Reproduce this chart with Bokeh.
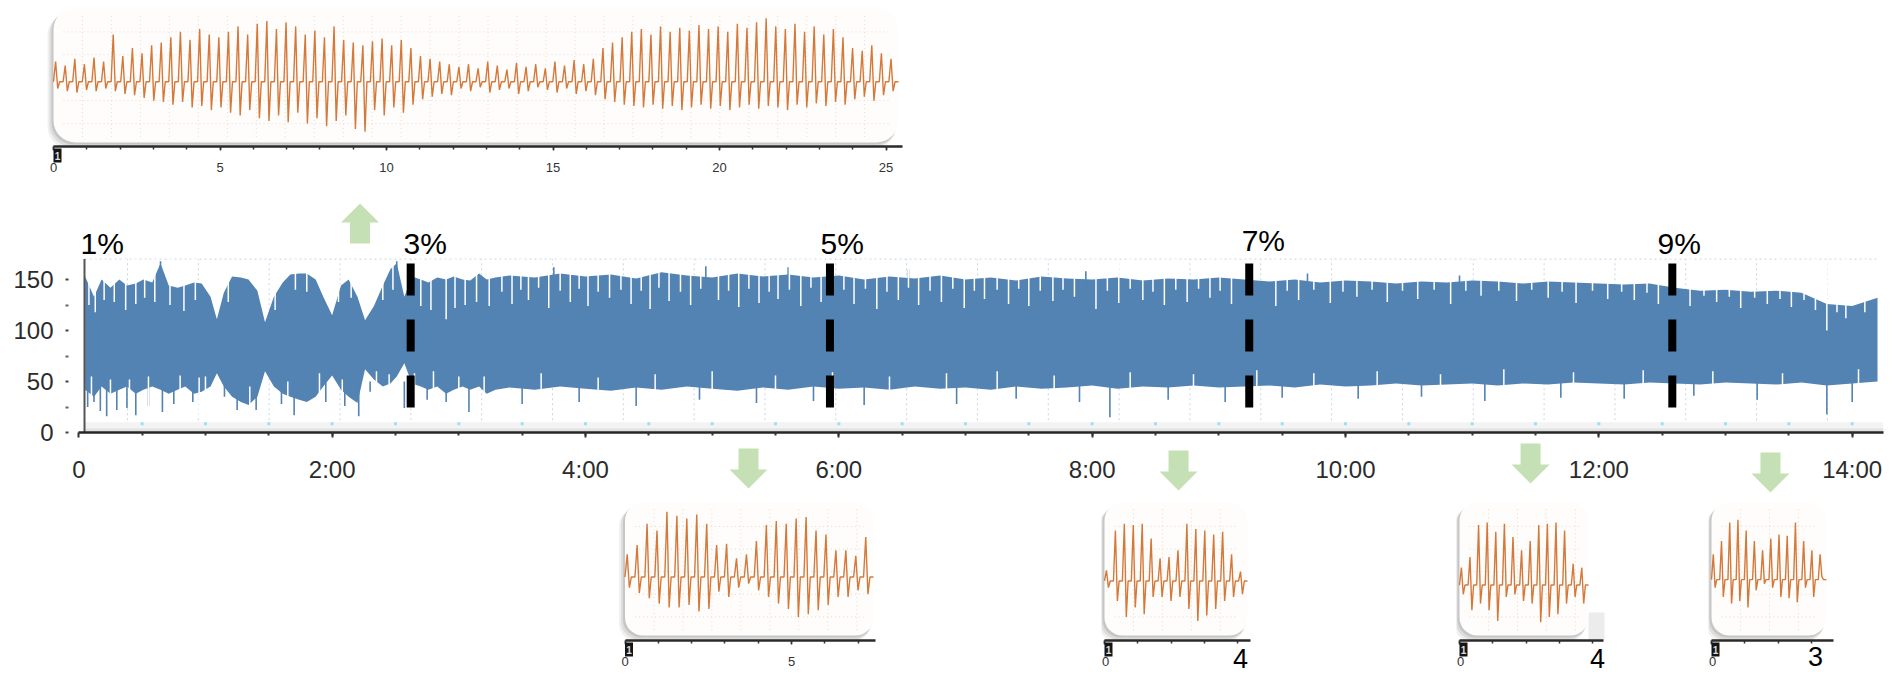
import numpy as np
from bokeh.plotting import figure
from bokeh.layouts import column, row
from bokeh.models import Range1d, FixedTicker, Spacer
from bokeh.embed import file_html
from bokeh.resources import INLINE
from bokeh.core.properties import value

# ------------------------------------------------------------------ data
time_ticks = [0, 2, 4, 6, 8, 10, 12, 14]
time_tick_labels = ["0", "2:00", "4:00", "6:00", "8:00", "10:00", "12:00", "14:00"]
value_ticks = [0, 50, 100, 150]
value_minor_ticks = [25, 75, 125]

# main recording: upper / lower envelope of the dense signal (hours, value)
env_t = [0.05, 0.12, 0.18, 0.25, 0.32, 0.38, 0.45, 0.51, 0.58, 0.645,
         0.71, 0.78, 0.84, 0.91, 0.97, 1.04, 1.09, 1.145, 1.21, 1.28,
         1.34, 1.41, 1.47, 1.54, 1.61, 1.67, 1.74, 1.80, 1.87, 1.93,
         2.0, 2.07, 2.13, 2.20, 2.26, 2.33, 2.40, 2.46, 2.51, 2.57,
         2.63, 2.70, 2.76, 2.83, 2.90, 2.96, 3.03, 3.09, 3.16, 3.22, 3.29,
         3.4, 3.6, 3.8, 4.0, 4.2, 4.4, 4.6, 4.8, 5.0, 5.2, 5.4, 5.6, 5.8, 6.0,
         6.2, 6.4, 6.6, 6.8, 7.0, 7.2, 7.4, 7.6, 7.8, 8.0, 8.2, 8.4, 8.6, 8.8,
         9.0, 9.2, 9.4, 9.6, 9.8, 10.0, 10.2, 10.4, 10.6, 10.8, 11.0, 11.2,
         11.4, 11.6, 11.8, 12.0, 12.2, 12.4, 12.6, 12.8, 13.0, 13.2, 13.4,
         13.6, 13.8, 14.0, 14.2]
env_hi = [153, 133, 150, 142, 150, 144, 146, 150, 147, 166,
          144, 142, 144, 147, 146, 133, 111, 137, 153, 152,
          150, 139, 108, 133, 147, 155, 156, 156, 150, 133,
          115, 144, 150, 133, 110, 124, 144, 160, 166, 133,
          153, 150, 147, 152, 150, 153, 150, 149, 156, 150, 152,
          154, 152, 156, 153, 155, 151, 157, 154, 152, 156, 153, 155, 152, 154,
          150, 153, 151, 154, 150, 152, 149, 153, 151, 150, 152, 149, 151, 150,
          152, 150, 148, 150, 147, 149, 148, 146, 148, 147, 149, 148,
          146, 148, 147, 146, 145, 146, 142, 139, 140, 138, 139,
          137, 126, 124, 132]
env_lo = [42, 35, 45, 38, 42, 45, 38, 42, 45, 42,
          38, 42, 45, 38, 40, 45, 58, 45, 35, 30,
          27, 35, 60, 45, 38, 35, 32, 30, 35, 45,
          56, 42, 35, 29, 62, 52, 45, 48, 55, 68,
          48, 45, 42, 45, 38, 42, 45, 42, 45, 38, 42,
          44, 42, 45, 43, 41, 44, 42, 45, 43, 41, 44, 42, 45, 43,
          44, 42, 45, 43, 44, 42, 45, 43, 44, 46, 43, 45, 44, 46,
          44, 45, 46, 44, 47, 45, 46, 48, 46, 47, 48, 46,
          48, 47, 49, 48, 47, 49, 48, 47, 49, 48, 47,
          49, 46, 48, 50]

# narrow dips from the top of the band (white notches)
top_notch_t = [0.08, 0.13, 0.20, 0.28, 0.37, 0.45, 0.52, 0.60, 0.72, 0.83,
               0.92, 1.18, 1.55, 1.71, 1.80, 2.05, 2.15, 2.40, 2.48, 2.70,
               2.78, 2.90, 2.97, 3.05, 3.14, 3.24, 3.34,
               3.42, 3.49, 3.55, 3.63, 3.71, 3.80, 3.88, 3.95, 4.02, 4.10,
               4.19, 4.28, 4.36, 4.44, 4.51, 4.58, 4.66, 4.75, 4.83, 4.91,
               5.05, 5.13, 5.21, 5.29, 5.37, 5.45, 5.52, 5.61, 5.70, 5.78,
               5.86, 6.04, 6.12, 6.21, 6.30, 6.38, 6.47, 6.55, 6.63, 6.72,
               6.81, 6.90, 6.99, 7.07, 7.15, 7.25, 7.34, 7.42, 7.50, 7.59,
               7.69, 7.77, 7.86, 8.03, 8.12, 8.21, 8.30, 8.40, 8.48, 8.57,
               8.66, 8.75, 8.84, 8.93, 9.01, 9.10, 9.45, 9.54, 9.63, 9.75,
               9.88, 9.98, 10.09, 10.21, 10.33, 10.45, 10.57, 10.70, 10.83, 10.95,
               11.07, 11.21, 11.35, 11.47, 11.60, 11.71, 11.82, 11.95, 12.07, 12.18,
               12.28, 12.38, 12.47, 12.72, 12.83, 12.93, 13.03, 13.12, 13.23, 13.33,
               13.43, 13.52, 13.62, 13.71, 13.80, 13.88, 13.95, 14.10]
top_notch_v = [125, 118, 130, 128, 120, 126, 132, 128, 125, 119,
               130, 128, 120, 140, 138, 128, 132, 130, 140, 124,
               120, 111, 122, 125, 128, 124, 138,
               126, 140, 130, 142, 122, 139, 128, 141, 124, 138,
               132, 140, 126, 139, 121, 142, 129, 138, 125, 141,
               130, 139, 123, 141, 127, 138, 131, 140, 124, 142,
               128, 140, 126, 141, 121, 138, 130, 142, 125, 139,
               128, 141, 122, 139, 131, 140, 126, 141, 124, 139,
               129, 140, 133, 121, 139, 127, 141, 130, 138, 125,
               140, 128, 141, 132, 139, 126, 124, 139, 130, 140,
               127, 138, 133, 140, 128, 139, 131, 140, 126, 139,
               134, 139, 129, 140, 132, 138, 127, 139, 131, 138,
               130, 137, 126, 124, 134, 128, 133, 122, 132, 126,
               131, 123, 130, 120, 100, 118, 112, 118]
# narrow rises from the bottom of the band (white notches)
bot_notch_t = [0.10, 0.25, 0.40, 0.55, 0.80, 0.95, 1.00, 1.35, 1.65, 1.90,
               2.08, 2.35, 2.45, 2.65, 2.80, 3.00, 3.20, 3.65, 4.10, 4.55,
               5.00, 5.50, 5.95, 6.40, 6.85, 7.25, 7.70, 8.30, 8.80, 9.30,
               9.75, 10.25, 10.75, 11.25, 11.80, 12.35, 12.90, 13.45, 14.05]
bot_notch_v = [55, 52, 52, 55, 56, 54, 55, 45, 50, 58,
               52, 60, 57, 58, 60, 55, 55, 58, 54, 57,
               60, 56, 59, 55, 58, 60, 56, 59, 57, 61,
               58, 60, 57, 62, 59, 61, 60, 58, 62]
# single low excursions (blue spikes downward)
bot_spike_t = [0.07, 0.12, 0.17, 0.22, 0.30, 0.38, 0.45, 0.55, 0.66, 0.75,
               0.90, 1.15, 1.25, 1.40, 1.60, 1.70, 1.95, 2.10, 2.21, 2.30,
               2.57, 2.75, 2.90, 3.08, 3.50, 3.95, 4.40, 4.90, 5.35, 5.80,
               6.20, 6.93, 7.40, 7.90, 8.14, 8.60, 9.05, 9.50, 10.10, 10.60,
               11.10, 11.70, 12.20, 12.75, 13.25, 13.80, 14.0]
bot_spike_v = [25, 30, 21, 16, 22, 24, 17, 26, 20, 28,
               30, 35, 22, 22, 28, 17, 30, 26, 16, 40,
               24, 32, 30, 20, 28, 30, 26, 32, 29, 31,
               27, 28, 33, 30, 15, 32, 30, 34, 33, 35,
               31, 34, 33, 36, 32, 18, 30]
# single high excursions (blue spikes upward)
top_spike_t = [0.645, 2.51, 3.75, 4.95, 5.60, 6.55, 7.95, 9.70, 10.90]
top_spike_v = [168, 168, 162, 163, 162, 160, 158, 156, 154]

# percentage annotations and marker lines
pct_labels = ["1%", "3%", "5%", "7%", "9%"]
pct_t = [0.013, 2.563, 5.856, 9.18, 12.463]
marker_t = [2.62, 5.93, 9.24, 12.58]
arrow_up_t = [2.22]
arrow_down_t = [5.287, 8.682, 11.461, 13.355]

# zoomed excerpts: per-cycle peak / trough values (0..100 box scale)
top_peaks = [60, 57, 62, 58, 63, 60, 80, 64, 70, 66, 72, 74,
             78, 82, 76, 84, 80, 78,
             82, 86, 80, 88, 90, 84, 89, 86, 80, 83, 78, 86, 76,
             74, 72, 75, 77, 72, 76, 70, 64, 62, 60, 58,
             56, 58, 55, 60, 57, 54, 59, 56, 58, 55, 60, 57, 61, 58, 62,
             70, 74, 78, 82,
             84, 80, 86, 82, 85, 83, 87, 84, 86, 82, 88, 85, 89, 92, 86, 84,
             88, 82, 86, 80, 84, 78,
             70, 68, 72, 66, 62]
top_troughs = [40, 38, 37, 39, 38, 40, 38, 36, 35, 33, 31, 30,
               28, 30, 26, 27, 24, 26,
               22, 20, 24, 18, 16, 20, 15, 22, 14, 18, 12, 16, 20,
               10, 8, 24, 20, 26, 22, 28, 32, 34, 36, 35,
               40, 38, 41, 37, 39, 40, 36, 38, 41, 39, 37, 40, 36, 38, 35,
               32, 30, 28, 27,
               26, 28, 25, 27, 24, 26, 28, 25, 27, 24, 26, 28, 25, 27, 26, 24,
               28, 26, 29, 27, 30, 28,
               32, 34, 31, 35, 38]
top_base = 45
top_ticks = [0, 5, 10, 15, 20, 25]

a_peaks = [61, 68, 84, 79, 93, 90, 88, 91, 84, 68, 69, 58, 61,
           71, 83, 86, 84, 88, 89, 79, 76, 64, 64, 60, 74]
a_troughs = [36, 32, 28, 24, 21, 21, 23, 18, 20, 33, 29, 36, 39,
             34, 29, 24, 20, 14, 16, 19, 23, 29, 29, 34, 31]
a_base = 44
b_peaks = [49, 79, 84, 83, 84, 73, 58, 59, 64, 84, 80, 79, 76, 78, 61, 48]
b_troughs = [36, 26, 14, 21, 16, 29, 29, 26, 29, 20, 11, 15, 20, 26, 29, 31]
b_base = 41
c_peaks = [51, 59, 83, 85, 78, 84, 74, 64, 71, 83, 84, 85, 79, 54, 51]
c_troughs = [31, 19, 24, 19, 11, 29, 31, 26, 24, 10, 14, 16, 24, 29, 24]
c_base = 38
d_peaks = [61, 71, 85, 87, 79, 71, 64, 73, 76, 75, 85, 71, 64, 61]
d_troughs = [36, 29, 24, 26, 21, 34, 39, 36, 29, 28, 25, 36, 29, 44]
d_base = 42
inset_end_labels = ["4", "4", "3"]

# ------------------------------------------------------------------ style
BLUE = "#5383b3"
ORANGE = "#d4793a"
GREEN = "#c5e0b4"
FONT = "Liberation Sans"

# main chart geometry (page pixels)
PX_H = 126.67           # px per hour
PX_V = 1.02             # px per value unit
T0 = 78.3               # page x of t = 0
FR_L, FR_R = 68, 1883   # frame left / right
Y0 = 432                # page y of value 0
MAIN_TOP = 180
FR_TOP = 190
W, H = 1899, 677


def px_t(x):
    return (x - T0) / PX_H


def px_v(y):
    return (Y0 - y) / PX_V


p = figure(width=W, height=320,
           x_range=Range1d(px_t(FR_L), px_t(FR_R)),
           y_range=Range1d(0, px_v(FR_TOP)),
           min_border_left=FR_L, min_border_right=W - FR_R,
           min_border_top=FR_TOP - MAIN_TOP, min_border_bottom=500 - Y0,
           output_backend="svg", toolbar_location=None)
p.outline_line_color = None
p.xgrid.grid_line_color = None
p.ygrid.grid_line_color = None

t_axis = px_t(84)
t_end = px_t(1878)

# dotted grid
grid_step = 70.83 / PX_H
gx = list(np.arange(px_t(127), t_end, grid_step))
p.segment(x0=gx, y0=[12] * len(gx), x1=gx, y1=[170] * len(gx),
          line_color="#c9d5e2", line_dash="2 3", line_width=1)
p.segment(x0=[t_axis], y0=[170], x1=[t_end], y1=[170],
          line_color="#c9d5e2", line_dash="2 3", line_width=1)
# soft shading above the time axis
p.quad(left=[t_axis], right=[px_t(FR_R)], bottom=[0], top=[10],
       fill_color="#f3f3f3", line_color=None)
p.quad(left=[t_axis], right=[px_t(FR_R)], bottom=[0], top=[4],
       fill_color="#e1e1e1", line_color=None)
half_hours = [h * 0.5 for h in range(1, 29)]
p.scatter(x=half_hours, y=[8.5] * len(half_hours), marker="square", size=3,
          fill_color="#9be0ee", line_color=None)

# signal band
p.varea(x=env_t, y1=env_lo, y2=env_hi, fill_color=BLUE)
p.segment(x0=top_spike_t, y0=[140] * len(top_spike_t), x1=top_spike_t,
          y1=top_spike_v, line_color=BLUE, line_width=1.6)
p.segment(x0=bot_spike_t, y0=[50] * len(bot_spike_t), x1=bot_spike_t,
          y1=bot_spike_v, line_color=BLUE, line_width=1.6)
p.segment(x0=top_notch_t, y0=[max(env_hi) + 4] * len(top_notch_t), x1=top_notch_t,
          y1=top_notch_v, line_color="white", line_width=1.5)
p.segment(x0=bot_notch_t, y0=[14] * len(bot_notch_t), x1=bot_notch_t,
          y1=bot_notch_v, line_color="white", line_width=1.5)

# y axis line (separate from the dotted ticks)
p.segment(x0=[t_axis], y0=[0], x1=[t_axis], y1=[170], line_color="#555555", line_width=2)

# dashed marker lines
p.segment(x0=marker_t, y0=[px_v(263)] * len(marker_t), x1=marker_t,
          y1=[px_v(407)] * len(marker_t), line_color="black", line_width=8,
          line_dash="32 24")

# percentage labels
pct_y = [px_v(243), px_v(243), px_v(243), px_v(240), px_v(243)]
p.text(x=pct_t, y=pct_y, text=pct_labels, text_font=value(FONT),
       text_font_size="30px", text_color="black", text_align="left",
       text_baseline="middle")

# axes
p.xaxis.ticker = FixedTicker(ticks=time_ticks, minor_ticks=half_hours)
p.xaxis.major_label_overrides = {t: l for t, l in zip(time_ticks, time_tick_labels)}
p.xaxis.bounds = (0, px_t(FR_R))
p.xaxis.axis_line_width = 2.5
p.xaxis.axis_line_color = "#262626"
p.xaxis.major_tick_in = 0
p.xaxis.major_tick_out = 5
p.xaxis.minor_tick_in = 0
p.xaxis.minor_tick_out = 3
p.xaxis.major_tick_line_color = "#333333"
p.xaxis.minor_tick_line_color = "#333333"
p.xaxis.major_tick_line_width = 2
p.xaxis.minor_tick_line_width = 2
p.xaxis.major_label_standoff = 18
p.xaxis.major_label_text_font = FONT
p.xaxis.major_label_text_font_size = "24px"
p.xaxis.major_label_text_color = "#2b2b2b"

p.yaxis.ticker = FixedTicker(ticks=value_ticks, minor_ticks=value_minor_ticks)
p.yaxis.axis_line_color = None
p.yaxis.major_tick_in = 0
p.yaxis.major_tick_out = 3
p.yaxis.minor_tick_in = 0
p.yaxis.minor_tick_out = 3
p.yaxis.major_tick_line_width = 2
p.yaxis.minor_tick_line_width = 2
p.yaxis.major_tick_line_color = "#444444"
p.yaxis.minor_tick_line_color = "#666666"
p.yaxis.major_label_standoff = 12
p.yaxis.major_label_text_font = FONT
p.yaxis.major_label_text_font_size = "24px"
p.yaxis.major_label_text_color = "#2b2b2b"


# ------------------------------------------------------------------ insets
PX_U = 33.3


def wave(peaks, troughs, base, period):
    xs, ys = [], []
    for i, (pk, tr) in enumerate(zip(peaks, troughs)):
        t = i * period
        xs += [t, t + 0.22 * period, t + 0.44 * period, t + 0.64 * period]
        ys += [base, pk, tr, base]
    xs.append(len(peaks) * period)
    ys.append(base)
    return xs, ys


def inset(canvas_left, canvas_right, unit0, box_right, canvas_top, canvas_bottom,
          box_top, box_bottom, axis_y, axis_end, peaks, troughs, base, ticks, minor,
          radius):
    PX_IV = (box_bottom - box_top) / 100.0
    f = figure(width=canvas_right - canvas_left, height=canvas_bottom - canvas_top,
               x_range=Range1d((canvas_left - unit0) / PX_U, (canvas_right - unit0) / PX_U),
               y_range=Range1d((box_bottom - axis_y) / PX_IV, (box_bottom - canvas_top) / PX_IV),
               min_border_left=0, min_border_right=0, min_border_top=0,
               min_border_bottom=canvas_bottom - axis_y, y_axis_location=None,
               output_backend="svg", toolbar_location=None)
    f.outline_line_color = None
    f.xgrid.grid_line_color = None
    f.ygrid.grid_line_color = None
    f.background_fill_color = None
    f.border_fill_color = None
    box_u = (box_right - unit0) / PX_U
    for off, alpha in [(6, 0.06), (4, 0.08), (2, 0.10)]:
        f.quad(left=[-off / PX_U], right=[box_u - off / PX_U / 2], bottom=[-off / PX_IV],
               top=[100 - off / PX_IV], fill_color="#000000", fill_alpha=alpha,
               line_color=None, border_radius=radius)
    f.quad(left=[0], right=[box_u], bottom=[0], top=[100], fill_color="#fefdfc",
           line_color=None, border_radius=radius)
    vx = list(np.arange(0.87, box_u - 0.2, 0.87))
    f.segment(x0=vx, y0=[4] * len(vx), x1=vx, y1=[96] * len(vx),
              line_color="#f1d7c6", line_dash="1 3", line_width=1)
    hy = [14, 31, 48, 65, 82]
    f.segment(x0=[0.3] * len(hy), y0=hy, x1=[box_u - 0.3] * len(hy), y1=hy,
              line_color="#f1d7c6", line_dash="1 3", line_width=1)
    period = box_u / len(peaks)
    xs, ys = wave(peaks, troughs, base, period)
    f.line(xs, ys, line_color=ORANGE, line_width=1.4)
    f.xaxis.ticker = FixedTicker(ticks=ticks, minor_ticks=minor)
    f.xaxis.bounds = (0, (axis_end - unit0) / PX_U)
    f.xaxis.axis_line_width = 2.5
    f.xaxis.axis_line_color = "#2a2a2a"
    f.xaxis.major_tick_in = 0
    f.xaxis.major_tick_out = 4
    f.xaxis.minor_tick_in = 0
    f.xaxis.minor_tick_out = 3
    f.xaxis.major_tick_line_color = "#333333"
    f.xaxis.minor_tick_line_color = "#333333"
    f.xaxis.major_tick_line_width = 1.5
    f.xaxis.minor_tick_line_width = 1.5
    f.xaxis.major_label_standoff = 12
    f.xaxis.major_label_text_font = FONT
    f.xaxis.major_label_text_font_size = "13px"
    f.xaxis.major_label_text_color = "#333333"
    return f


# inset geometry: (canvas_left, canvas_right, unit0_px, box_right, canvas_top,
#                  canvas_bottom, box_top, box_bottom, axis_y, axis_end)
G_TOP = (46, 906, 53, 898, 0, 180, 7, 142, 146, 902)
G_A = (617, 880, 624.5, 873, 500, 677, 502, 635, 640, 875)
G_B = (1101, 1260, 1104, 1247, 500, 677, 502, 635, 640, 1250)
G_C = (1456, 1614, 1459, 1588, 500, 677, 502, 635, 640, 1603)
G_D = (1708, 1845, 1711, 1826, 500, 677, 502, 635, 640, 1833)

f_top = inset(*G_TOP, top_peaks, top_troughs, top_base, top_ticks, list(range(26)), 22)
f_a = inset(*G_A, a_peaks, a_troughs, a_base, [0, 5], list(range(8)), 18)
f_b = inset(*G_B, b_peaks, b_troughs, b_base, [0], list(range(5)), 18)
f_c = inset(*G_C, c_peaks, c_troughs, c_base, [0], list(range(5)), 18)
f_c.quad(left=[(1588 - 1459) / PX_U], right=[(1604 - 1459) / PX_U],
         bottom=[(635 - 639) / 1.33], top=[(635 - 612) / 1.33],
         fill_color="#ececec", line_color=None, level="underlay")
f_d = inset(*G_D, d_peaks, d_troughs, d_base, [0], list(range(4)), 18)

# ------------------------------------------------------------------ overlay layer
# transparent layer over the whole page, sharing the main chart's scales,
# for the pointer arrows, the axis origin badges and the enlarged end labels
ov = figure(width=W, height=H, x_range=Range1d(px_t(0), px_t(W)),
            y_range=Range1d(px_v(H), px_v(0)), x_axis_location=None,
            y_axis_location=None, min_border=0, min_border_left=0,
            min_border_right=0, min_border_top=0, min_border_bottom=0,
            output_backend="svg", toolbar_location=None)
ov.outline_line_color = None
ov.xgrid.grid_line_color = None
ov.ygrid.grid_line_color = None
ov.background_fill_color = None
ov.border_fill_color = None


def arrow(cx, top_y, direction):
    if direction == "down":
        pts = [(-10, 0), (10, 0), (10, 21), (19, 21), (0, 40), (-19, 21), (-10, 21)]
    else:
        pts = [(0, 0), (19, 19), (10, 19), (10, 40), (-10, 40), (-10, 19), (-19, 19)]
    return ([cx + dx / PX_H for dx, dy in pts], [px_v(top_y + dy) for dx, dy in pts])


axs, ays = [], []
for cx in arrow_up_t:
    xs_, ys_ = arrow(cx, 203, "up")
    axs.append(xs_)
    ays.append(ys_)
for cx, ty in zip(arrow_down_t, [448, 450, 443, 452]):
    xs_, ys_ = arrow(cx, ty, "down")
    axs.append(xs_)
    ays.append(ys_)
ov.patches(xs=axs, ys=ays, fill_color=GREEN, line_color=None)

# origin badges under each excerpt axis
badge_geo = [G_TOP, G_A, G_B, G_C, G_D]
bl = [px_t(g[2]) for g in badge_geo]
br = [px_t(g[2] + 8) for g in badge_geo]
bt = [px_v(g[8] + 2) for g in badge_geo]
bb = [px_v(g[8] + 16) for g in badge_geo]
ov.quad(left=bl, right=br, top=bt, bottom=bb, fill_color="#151515", line_color=None)
ov.text(x=[px_t(g[2] + 4) for g in badge_geo], y=[px_v(g[8] + 9) for g in badge_geo],
        text=["1"] * len(badge_geo), text_font=value(FONT), text_font_size="10px",
        text_font_style="bold", text_color="#dddddd", text_align="center",
        text_baseline="middle")

# enlarged end-of-axis labels of the small excerpts
end_x = [px_t(1240), px_t(1597), px_t(1815)]
end_y = [px_v(658), px_v(658), px_v(656)]
ov.text(x=end_x, y=end_y, text=inset_end_labels, text_font=value(FONT),
        text_font_size="27px", text_color="black", text_align="center",
        text_baseline="middle")

top_row = row(Spacer(width=46, height=180), f_top, Spacer(width=W - 906, height=180),
              spacing=0)
bottom_row = row(Spacer(width=617, height=177), f_a, Spacer(width=1101 - 880, height=177),
                 f_b, Spacer(width=1456 - 1260, height=177), f_c,
                 Spacer(width=1708 - 1614, height=177), f_d,
                 Spacer(width=W - 1845, height=177), spacing=0)
main_row = row(p, spacing=0)
ov_row = row(ov, spacing=0, margin=(-H, 0, 0, 0))
layout = column(top_row, main_row, bottom_row, ov_row, spacing=0)

open("out.html", "w").write(file_html(layout, INLINE))
